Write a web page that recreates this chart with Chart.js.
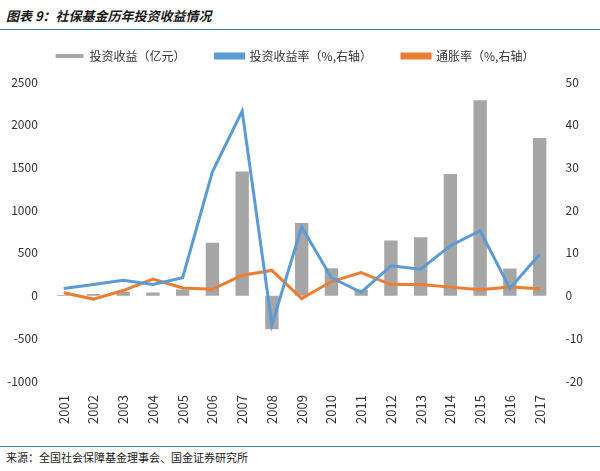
<!DOCTYPE html>
<html>
<head>
<meta charset="utf-8">
<script src="https://cdn.jsdelivr.net/npm/chart.js@4"></script>
<style>
body { margin:0; width:600px; height:471px; background:#fff; font-family:"Noto Sans CJK SC","Noto Sans",sans-serif; position:relative; overflow:hidden; }
#title { position:absolute; left:6px; top:6px; font-size:13px; font-weight:bold; font-style:italic; color:#1a1a1a; }
#top-rule { position:absolute; left:0; top:29px; width:600px; height:1px; background:#4a7ebb; }
#bot-rule { position:absolute; left:0; top:446px; width:600px; height:1px; background:#4a7ebb; }
#source { position:absolute; left:6px; top:449px; font-size:11px; color:#1a1a1a; }
#wrap { position:absolute; left:0; top:20px; width:590px; height:410px; }
</style>
</head>
<body>
<div id="title">图表 9：社保基金历年投资收益情况</div>
<div id="top-rule"></div>
<div id="wrap"><canvas id="c"></canvas></div>
<div id="bot-rule"></div>
<div id="source">来源：全国社会保障基金理事会、国金证券研究所</div>
<script>
// Data
const years = ['2001','2002','2003','2004','2005','2006','2007','2008','2009','2010','2011','2012','2013','2014','2015','2016','2017'];
const income = [7, 19, 45, 36, 72, 620, 1453, -393, 850, 321, 73, 646, 685, 1424, 2287, 319, 1846];
const returnRate = [1.7, 2.6, 3.6, 2.6, 4.2, 29.0, 43.2, -6.8, 16.1, 4.2, 0.8, 7.0, 6.2, 11.7, 15.2, 1.7, 9.7];
const inflation = [0.7, -0.8, 1.2, 3.9, 1.8, 1.5, 4.8, 5.9, -0.7, 3.3, 5.4, 2.6, 2.6, 2.0, 1.4, 2.0, 1.6];

const font = { family: '"Noto Sans CJK SC","Noto Sans",sans-serif', size: 12 };

// extra space under the legend
const legendGap = {
    id: 'legendGap',
    beforeInit(chart) {
        const fit = chart.legend.fit;
        chart.legend.fit = function () { fit.call(this); this.height += 10; };
    }
};

new Chart(document.getElementById('c'), {
    type: 'bar',
    plugins: [legendGap],
    data: {
        labels: years,
        datasets: [
            { label: '投资收益（亿元）', data: income, backgroundColor: '#a6a6a6', yAxisID: 'y', barPercentage: 0.45, categoryPercentage: 1, order: 3 },
            { label: '投资收益率（%,右轴）', data: returnRate, type: 'line', borderColor: '#5b9bd5', backgroundColor: '#5b9bd5', borderWidth: 3, pointRadius: 0, yAxisID: 'y1', order: 1 },
            { label: '通胀率（%,右轴）', data: inflation, type: 'line', borderColor: '#ed7d31', backgroundColor: '#ed7d31', borderWidth: 3, pointRadius: 0, yAxisID: 'y1', order: 2 }
        ]
    },
    options: {
        responsive: true, maintainAspectRatio: false, animation: false,
        layout: { padding: { left: 4, right: 4, top: 0 } },
        plugins: {
            legend: {
                position: 'top',
                labels: { font, color: '#333', boxWidth: 28, boxHeight: 4, padding: 30,
                          sort: (a, b) => a.datasetIndex - b.datasetIndex }
            },
            tooltip: { enabled: false }
        },
        scales: {
            x: {
                grid: { display: false },
                border: { display: false },
                ticks: { font: { ...font, size: 13 }, color: '#333', minRotation: 90, maxRotation: 90, padding: 6 }
            },
            y: {
                position: 'left', min: -1000, max: 2500,
                ticks: { stepSize: 500, font, color: '#333', callback: v => String(v) },
                grid: { display: false },
                border: { display: false }
            },
            y1: {
                position: 'right', min: -20, max: 50,
                ticks: { stepSize: 10, font, color: '#333' },
                grid: { display: false },
                border: { display: false }
            }
        }
    }
});
</script>
</body>
</html>
